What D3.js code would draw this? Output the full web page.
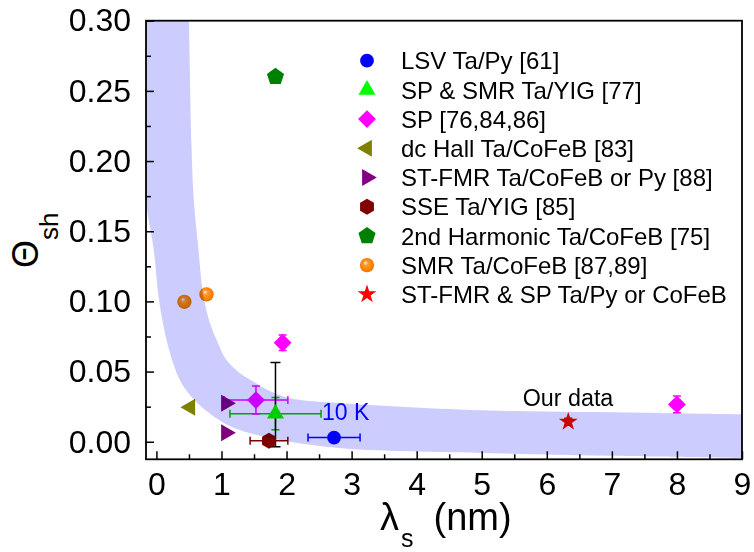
<!DOCTYPE html>
<html>
<head>
<meta charset="utf-8">
<script src="https://cdn.jsdelivr.net/npm/d3@7"></script>
<style>
  body { margin: 0; background: #fff; }
  svg text { font-family: "Liberation Sans", Arial, sans-serif; }
</style>
</head>
<body>
<script>
// legend labels
var labels = ["LSV Ta/Py [61]", "SP & SMR Ta/YIG [77]", "SP [76,84,86]", "dc Hall Ta/CoFeB [83]",
  "ST-FMR Ta/CoFeB or Py [88]", "SSE Ta/YIG [85]", "2nd Harmonic Ta/CoFeB [75]",
  "SMR Ta/CoFeB [87,89]", "ST-FMR & SP Ta/Py or CoFeB"];

// data: l = lambda_s (nm), t = theta_sh, lx / ty = error bars
var lsv = [{l: 2.73, t: 0.003, lx: 0.4}];
var spSmr = [{l: 1.83, t: 0.020, lx: 0.7, ty: 0.0115}];
var sp = [{l: 1.94, t: 0.0705, ty: 0.0055}, {l: 1.53, t: 0.0297, lx: 0.49, ty: 0.01}, {l: 8.0, t: 0.0266, ty: 0.006}];
var dcHall = [{l: 0.52, t: 0.0245}];
var stFmr = [{l: 1.07, t: 0.0275}, {l: 1.07, t: 0.0065}];
var sse = [{l: 1.73, t: 0.0007, lx: 0.29}];
var harmonic = [{l: 1.83, t: 0.26}];
var smr = [{l: 0.43, t: 0.0997}, {l: 0.77, t: 0.105}];
var ours = [{l: 6.33, t: 0.0142, ty: 0.0025}];
// black error bar at the SP & SMR point
var blackBar = [{l: 1.83, lo: -0.0035, hi: 0.0565}];

// shaded band edges [lambda, theta]
var bandUpper = [[0.49, 0.32], [0.50, 0.30], [0.54, 0.21], [0.575, 0.172], [0.64, 0.14], [0.72, 0.1045],
  [0.82, 0.085], [0.93, 0.072], [1.08, 0.058], [1.28, 0.049], [1.52, 0.042], [1.70, 0.037],
  [2.05, 0.031], [2.8, 0.0276], [3.75, 0.025], [5, 0.0225], [7, 0.021], [9.2, 0.0195]];
var bandLower = [[-0.22, 0.32], [-0.18, 0.18], [-0.04, 0.1365], [0.04, 0.101], [0.18, 0.068],
  [0.36, 0.044], [0.52, 0.033], [0.75, 0.0226], [1.0, 0.0145], [1.28, 0.0083], [1.9, 0.0012],
  [2.6, -0.0035], [3.3, -0.0059], [5, -0.008], [7, -0.010], [9.2, -0.0118]];

var xTicks = [0, 1, 2, 3, 4, 5, 6, 7, 8, 9];
var yTicks = [0, 0.05, 0.10, 0.15, 0.20, 0.25, 0.30];

var W = 754, H = 552;
var pLeft = 146, pRight = 742, pTop = 20.7, pBottom = 459.3;

var x = d3.scaleLinear().domain([-0.16, 9]).range([pLeft, pRight]);
var y = d3.scaleLinear().domain([-0.0125, 0.30]).range([pBottom, pTop]);

var svg = d3.select("body").append("svg")
  .attr("width", W).attr("height", H);

var defs = svg.append("defs");
defs.append("clipPath").attr("id", "plotclip")
  .append("rect").attr("x", pLeft).attr("y", pTop)
  .attr("width", pRight - pLeft).attr("height", pBottom - pTop);

var grad = defs.append("radialGradient").attr("id", "sphere")
  .attr("cx", "50%").attr("cy", "50%").attr("r", "55%")
  .attr("fx", "38%").attr("fy", "32%");
grad.append("stop").attr("offset", "0%").attr("stop-color", "#fff2e0");
grad.append("stop").attr("offset", "30%").attr("stop-color", "#ff9a2e");
grad.append("stop").attr("offset", "75%").attr("stop-color", "#ff8000");
grad.append("stop").attr("offset", "100%").attr("stop-color", "#d96a00");

svg.append("rect").attr("width", W).attr("height", H).attr("fill", "#fff");

// marker shapes
function polygon(n, r, rot) {
  var p = [];
  for (var i = 0; i < n; i++) {
    var a = rot + i * 2 * Math.PI / n;
    p.push([r * Math.cos(a), r * Math.sin(a)]);
  }
  return "M" + p.join("L") + "Z";
}
var tri = d3.symbol().type(d3.symbolTriangle).size(125)();
var shapes = [
  {d: d3.symbol().type(d3.symbolCircle).size(150)(), fill: "#0000ff"},
  {d: tri, fill: "#00ff00"},
  {d: d3.symbol().type(d3.symbolSquare).size(160)(), fill: "#ff00ff", rot: 45},
  {d: tri, fill: "#808000", rot: -90},
  {d: tri, fill: "#800080", rot: 90},
  {d: polygon(6, 8, -Math.PI / 2), fill: "#800000"},
  {d: polygon(5, 9, -Math.PI / 2), fill: "#008000"},
  {d: d3.symbol().type(d3.symbolCircle).size(160)(), fill: "url(#sphere)"},
  {d: d3.symbol().type(d3.symbolStar).size(110)(), fill: "#ff0000"}
];
var errColors = ["#0000ff", "#00cc00", "#ff00ff", "#808000", "#800080", "#800000", "#008000", "#ff8000", "#cc0000"];
var series = [lsv, spSmr, sp, dcHall, stFmr, sse, harmonic, smr, ours];

var plot = svg.append("g").attr("clip-path", "url(#plotclip)");

// error bars
var eb = plot.append("g").attr("stroke-width", 1.5).attr("fill", "none");
series.forEach(function (s, i) {
  s.forEach(function (d) {
    var cx = x(d.l), cy = y(d.t);
    if (d.lx) {
      eb.append("path").attr("stroke", errColors[i])
        .attr("d", "M" + x(d.l - d.lx) + "," + cy + "H" + x(d.l + d.lx) +
          "M" + x(d.l - d.lx) + "," + (cy - 4) + "V" + (cy + 4) +
          "M" + x(d.l + d.lx) + "," + (cy - 4) + "V" + (cy + 4));
    }
    if (d.ty) {
      eb.append("path").attr("stroke", errColors[i])
        .attr("d", "M" + cx + "," + y(d.t - d.ty) + "V" + y(d.t + d.ty) +
          "M" + (cx - 4) + "," + y(d.t - d.ty) + "H" + (cx + 4) +
          "M" + (cx - 4) + "," + y(d.t + d.ty) + "H" + (cx + 4));
    }
  });
});
blackBar.forEach(function (d) {
  var cx = x(d.l);
  eb.append("path").attr("stroke", "#000")
    .attr("d", "M" + cx + "," + y(d.lo) + "V" + y(d.hi) +
      "M" + (cx - 5) + "," + y(d.lo) + "H" + (cx + 5) +
      "M" + (cx - 5) + "," + y(d.hi) + "H" + (cx + 5));
});

// markers
series.forEach(function (s, i) {
  plot.append("g").selectAll("path").data(s).join("path")
    .attr("d", shapes[i].d)
    .attr("fill", shapes[i].fill)
    .attr("transform", function (d) {
      return "translate(" + x(d.l) + "," + y(d.t) + ")" + (shapes[i].rot ? " rotate(" + shapes[i].rot + ")" : "");
    });
});

// band on top, multiplied
var edge = d3.line().x(function (d) { return x(d[0]); }).y(function (d) { return y(d[1]); })
  .curve(d3.curveCatmullRom.alpha(0.5));
var bandPath = edge(bandUpper) + edge(bandLower.slice().reverse()).replace(/^M/, "L") + "Z";
plot.append("path").attr("d", bandPath).attr("fill", "#ccccff")
  .style("mix-blend-mode", "multiply");

// axes with inward ticks
function minors(a, b, step) {
  var r = [];
  for (var v = a; v <= b + 1e-9; v += step) r.push(+v.toFixed(4));
  return r;
}
svg.append("g").attr("transform", "translate(0," + pBottom + ")")
  .call(d3.axisBottom(x).tickValues(minors(0.5, 8.5, 1)).tickSize(-5).tickFormat(""))
  .call(function (g) { g.select(".domain").remove(); });
svg.append("g").attr("transform", "translate(" + pLeft + ",0)")
  .call(d3.axisLeft(y).tickValues(minors(0.025, 0.275, 0.05)).tickSize(-5).tickFormat(""))
  .call(function (g) { g.select(".domain").remove(); });

var xa = svg.append("g").attr("transform", "translate(0," + pBottom + ")")
  .call(d3.axisBottom(x).tickValues(xTicks).tickSize(-8).tickPadding(13).tickFormat(d3.format("d")));
xa.select(".domain").remove();
xa.selectAll("text").attr("font-size", 32).attr("fill", "#000");

var ya = svg.append("g").attr("transform", "translate(" + pLeft + ",0)")
  .call(d3.axisLeft(y).tickValues(yTicks).tickSize(-8).tickPadding(15).tickFormat(d3.format(".2f")));
ya.select(".domain").remove();
ya.selectAll("text").attr("font-size", 32).attr("fill", "#000");

svg.selectAll(".tick line").attr("stroke", "#000").attr("stroke-width", 1.5);

svg.append("rect").attr("x", pLeft).attr("y", pTop)
  .attr("width", pRight - pLeft).attr("height", pBottom - pTop)
  .attr("fill", "none").attr("stroke", "#000").attr("stroke-width", 1.8);

// legend
var leg = svg.append("g");
labels.forEach(function (t, i) {
  var ly = 60.7 + i * 29.2;
  leg.append("path").attr("d", shapes[i].d).attr("fill", shapes[i].fill)
    .attr("transform", "translate(367," + ly + ")" + (shapes[i].rot ? " rotate(" + shapes[i].rot + ")" : ""));
  leg.append("text").attr("x", 401).attr("y", ly).attr("dy", "0.36em")
    .attr("font-size", 24).text(t);
});

// annotations
svg.append("text").attr("x", 322).attr("y", 420).attr("font-size", 23)
  .attr("fill", "#0000ff").text("10 K");
svg.append("text").attr("x", 568).attr("y", 406).attr("font-size", 23.3)
  .attr("text-anchor", "middle").text("Our data");

// axis titles
var yt = svg.append("text").attr("transform", "translate(38,268) rotate(-90)");
yt.append("tspan").attr("font-size", 36).text("\u0398");
yt.append("tspan").attr("font-size", 26).attr("dy", 20).text("sh");

var xt = svg.append("text").attr("x", 380).attr("y", 530);
xt.append("tspan").attr("font-size", 38).text("\u03bb");
xt.append("tspan").attr("font-size", 25).attr("dx", 2).attr("dy", 17).text("s");
xt.append("tspan").attr("font-size", 38).attr("dx", 20).attr("dy", -17).text("(nm)");
</script>
</body>
</html>
